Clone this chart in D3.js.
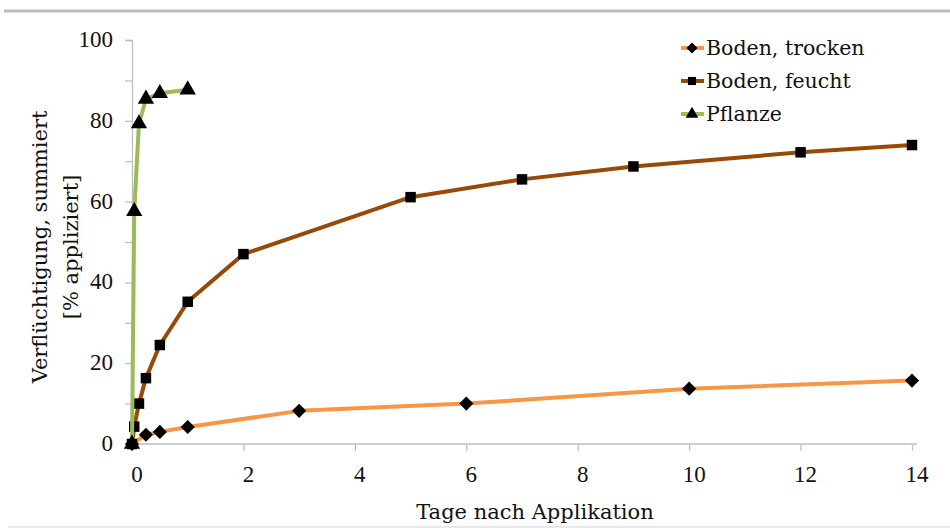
<!DOCTYPE html>
<html><head><meta charset="utf-8">
<script src="https://cdn.jsdelivr.net/npm/d3@7"></script>
<style>body{margin:0;background:#fff}svg{display:block}</style>
</head><body>
<svg id="c" width="950" height="528"></svg>
<script>
const seriesNames = ["Boden, trocken", "Boden, feucht", "Pflanze"];
const trockenX = [0, 0.25, 0.5, 1, 3, 6, 10, 14];
const trockenY = [0, 2.3, 3.0, 4.2, 8.2, 10.0, 13.7, 15.7];
const feuchtX = [0, 0.04, 0.125, 0.25, 0.5, 1, 2, 5, 7, 9, 12, 14];
const feuchtY = [0, 4.3, 10.0, 16.3, 24.5, 35.2, 47.0, 61.1, 65.5, 68.7, 72.2, 74.0];
const pflanzeX = [0, 0.04, 0.125, 0.25, 0.5, 1];
const pflanzeY = [0, 57.6, 79.3, 85.4, 86.8, 87.7];
const xTicks = [0, 2, 4, 6, 8, 10, 12, 14];
const yTicks = [0, 20, 40, 60, 80, 100];

const svg = d3.select("#c");
const x = d3.scaleLinear().domain([0, 14]).range([132, 912]);
const y = d3.scaleLinear().domain([0, 100]).range([444, 40]);

// frame lines
svg.append("line").attr("x1", 4).attr("x2", 950).attr("y1", 11).attr("y2", 11)
  .attr("stroke", "#bdbdbd").attr("stroke-width", 3);
svg.append("line").attr("x1", 8).attr("x2", 950).attr("y1", 527).attr("y2", 527)
  .attr("stroke", "#e2e2e2").attr("stroke-width", 1.5);

// y axis
const yAxis = d3.axisLeft(y).tickValues(d3.range(0, 101, 10)).tickSize(7).tickFormat("");
const gy = svg.append("g").attr("transform", "translate(132,0)").call(yAxis);
gy.select(".domain").attr("stroke", "#bfbfbf").attr("stroke-width", 1.3);
gy.selectAll(".tick line").attr("stroke", "#bfbfbf").attr("stroke-width", 1.3);
svg.append("g").selectAll("text").data(yTicks).join("text")
  .attr("x", 113).attr("y", d => y(d) + 7)
  .attr("text-anchor", "end")
  .style("font-family", "'Liberation Serif', serif").style("font-size", "23px").style("fill", "#111")
  .text(d => d);

// x axis
const xAxis = d3.axisBottom(x).tickValues(xTicks).tickSize(7).tickFormat("");
const gx = svg.append("g").attr("transform", "translate(0,444)").call(xAxis);
gx.select(".domain").attr("stroke", "#bfbfbf").attr("stroke-width", 1.3).attr("d", "M132,0H917");
gx.selectAll(".tick line").attr("stroke", "#bfbfbf").attr("stroke-width", 1.3);
svg.append("g").selectAll("text").data(xTicks).join("text")
  .attr("x", d => x(d) + 5).attr("y", 482)
  .attr("text-anchor", "middle")
  .style("font-family", "'Liberation Serif', serif").style("font-size", "23px").style("fill", "#111")
  .text(d => d);

// axis titles
const tfont = "'DejaVu Serif', serif";
svg.append("text").attr("x", 535).attr("y", 519).attr("text-anchor", "middle")
  .style("font-family", tfont).style("font-size", "21px").style("fill", "#111")
  .text("Tage nach Applikation");
svg.append("text").attr("transform", "translate(47,247) rotate(-90)").attr("text-anchor", "middle")
  .style("font-family", tfont).style("font-size", "21px").style("fill", "#111")
  .text("Verflüchtigung, summiert");
svg.append("text").attr("transform", "translate(78,247) rotate(-90)").attr("text-anchor", "middle")
  .style("font-family", tfont).style("font-size", "21px").style("fill", "#111")
  .text("[% appliziert]");

const series = [
  {name: seriesNames[0], xs: trockenX, ys: trockenY, color: "#f79646", sym: d3.symbolSquare, size: 100, rot: 45},
  {name: seriesNames[1], xs: feuchtX, ys: feuchtY, color: "#984807", sym: d3.symbolSquare, size: 110, rot: 0},
  {name: seriesNames[2], xs: pflanzeX, ys: pflanzeY, color: "#9bbb59", sym: d3.symbolTriangle, size: 115, rot: 0}
];
const line = d3.line().x(d => x(d[0])).y(d => y(d[1]));
series.forEach(s => {
  const pts = s.xs.map((v, i) => [v, s.ys[i]]);
  svg.append("path").datum(pts).attr("d", line).attr("fill", "none")
    .attr("stroke", s.color).attr("stroke-width", 4).attr("stroke-linejoin", "round");
  svg.append("g").selectAll("path").data(pts).join("path")
    .attr("transform", d => `translate(${x(d[0])},${y(d[1])}) rotate(${s.rot})`)
    .attr("d", d3.symbol().type(s.sym).size(s.size)).attr("fill", "#000");
});

// legend
const lg = svg.append("g");
series.forEach((s, i) => {
  const cy = 48 + i * 33;
  lg.append("line").attr("x1", 681).attr("x2", 704).attr("y1", cy).attr("y2", cy)
    .attr("stroke", s.color).attr("stroke-width", 4);
  lg.append("path").attr("transform", `translate(692,${cy}) rotate(${s.rot})`)
    .attr("d", d3.symbol().type(s.sym).size(s.size * 0.6)).attr("fill", "#000");
  lg.append("text").attr("x", 706).attr("y", cy + 7)
    .style("font-family", tfont).style("font-size", "20.5px").style("fill", "#111")
    .text(s.name);
});
</script>
</body></html>
